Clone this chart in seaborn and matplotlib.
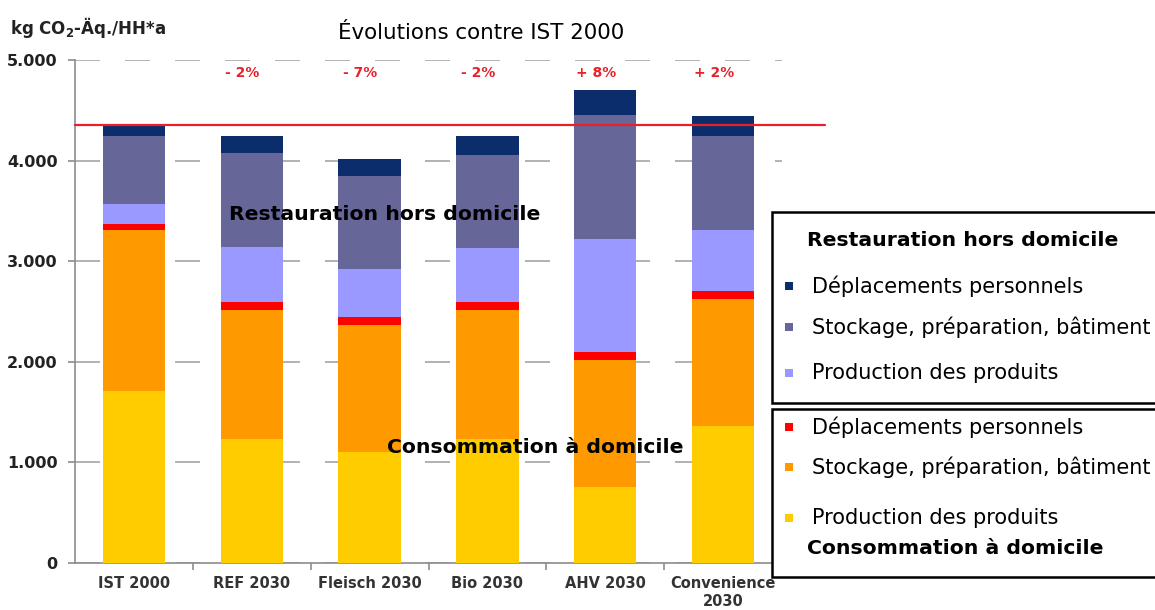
import numpy as np
import pandas as pd
import matplotlib
matplotlib.use('Agg')
import matplotlib.pyplot as plt
from matplotlib.patches import Rectangle
import seaborn as sns

# scenarios on the x axis
scenarios = ['IST 2000', 'REF 2030', 'Fleisch 2030', 'Bio 2030', 'AHV 2030', 'Convenience\n2030']

# kg CO2-eq per household and year, bottom to top
home_production = [1710, 1230, 1105, 1230, 760, 1360]
home_storage = [1600, 1280, 1260, 1280, 1260, 1265]
home_transport = [60, 80, 85, 80, 75, 80]
out_production = [200, 555, 470, 545, 1125, 605]
out_storage = [675, 935, 930, 925, 1235, 935]
out_transport = [105, 165, 170, 185, 245, 195]

changes = ['', '- 2%', '- 7%', '- 2%', '+ 8%', '+ 2%']

segment_names = ['Production des produits', 'Stockage, préparation, bâtiment', 'Déplacements personnels',
                 'Production des produits', 'Stockage, préparation, bâtiment', 'Déplacements personnels']
segment_colors = ['#FFCC00', '#FF9900', '#FF0000', '#9999FF', '#666699', '#0B2D6B']
segments = [home_production, home_storage, home_transport, out_production, out_storage, out_transport]

sns.set_theme(style='white')
plt.rcParams['font.family'] = ['DejaVu Sans']
plt.rcParams['text.color'] = 'black'

df = pd.DataFrame({'scenario': scenarios})
cum = np.zeros(len(scenarios))
for k, seg in enumerate(segments):
    cum = cum + np.array(seg)
    df['cum{}'.format(k)] = cum

fig = plt.figure(figsize=(11.55, 6.10), dpi=100)
ax = fig.add_axes([75 / 1155, 1 - 563 / 610, 707 / 1155, 503 / 610])

# stacked bars: draw cumulative totals from the top down
for k in reversed(range(len(segments))):
    sns.barplot(data=df, x='scenario', y='cum{}'.format(k), color=segment_colors[k],
                saturation=1, width=0.53, order=scenarios, ax=ax, zorder=3,
                linewidth=0, edgecolor='none')

ax.set_ylim(0, 5000)
ax.set_xlim(-0.5, 5.5)
ax.set_yticks([0, 1000, 2000, 3000, 4000, 5000])
ax.set_yticklabels(['0', '1.000', '2.000', '3.000', '4.000', '5.000'])
ax.set_xlabel('')
ax.set_ylabel('')

lw = 1.3
ax.yaxis.grid(True, color='#ABABAB', linewidth=lw, linestyle=(0, (18 / lw, 18 / lw)), zorder=0)
ax.xaxis.grid(False)
ax.set_axisbelow(True)

for side in ['top', 'right']:
    ax.spines[side].set_visible(False)
for side in ['left', 'bottom']:
    ax.spines[side].set_color('#8C8C8C')
    ax.spines[side].set_linewidth(1.2)

ax.tick_params(axis='y', which='major', left=True, length=5, width=1.2, color='#8C8C8C',
               labelsize=11.5, labelcolor='#222222', pad=7.5)
for lab in ax.get_yticklabels():
    lab.set_fontweight('bold')

ax.set_xticks(np.arange(len(scenarios)))
ax.set_xticklabels(scenarios)
ax.set_xticks(np.arange(len(scenarios)) + 0.5, minor=True)
ax.tick_params(axis='x', which='major', bottom=False, labelsize=10.5, labelcolor='#333333', pad=3)
ax.tick_params(axis='x', which='minor', bottom=True, length=5, width=1.2, color='#8C8C8C')
for lab in ax.get_xticklabels():
    lab.set_fontweight('bold')
    lab.set_linespacing(1.3)

# reference line at the IST 2000 total
ax.axhline(df['cum5'].iloc[0], xmin=0, xmax=(825 - 75) / 707, color='#E8202A',
           linewidth=1.6, zorder=4, clip_on=False)

for i, txt in enumerate(changes):
    ax.text(i - 0.08, 4870, txt, color='#E8202A', fontsize=10, fontweight='bold',
            ha='center', va='center')

ax.text(2.13, 3460, 'Restauration hors domicile', fontsize=14.7, fontweight='bold',
        ha='center', va='center', color='black', zorder=5)
ax.text(3.41, 1145, 'Consommation à domicile', fontsize=14.7, fontweight='bold',
        ha='center', va='center', color='black', zorder=5)

fig.text(481 / 1155, 1 - 33 / 610, 'Évolutions contre IST 2000', fontsize=15.4,
         ha='center', va='center', color='black')
fig.text(10 / 1155, 1 - 27 / 610, r'kg CO$_\mathbf{2}$-Äq./HH*a', fontsize=12, fontweight='bold',
         ha='left', va='center', color='#222222')

# legend boxes
def px(x, y):
    return x / 1155, 1 - y / 610

for (y0, y1) in [(212, 403), (409, 577)]:
    fig.patches.append(Rectangle(px(772, y1), (1160 - 772) / 1155, (y1 - y0) / 610,
                                 transform=fig.transFigure, facecolor='white',
                                 edgecolor='black', linewidth=1.8, zorder=10))

fig.text(*px(807, 241), 'Restauration hors domicile', fontsize=14.7, fontweight='bold',
         ha='left', va='center', color='black', zorder=11)
fig.text(*px(807, 548), 'Consommation à domicile', fontsize=14.7, fontweight='bold',
         ha='left', va='center', color='black', zorder=11)

legend_rows = [(5, 286), (4, 327), (3, 373), (2, 427), (1, 467), (0, 518)]
for k, y in legend_rows:
    fig.patches.append(Rectangle(px(785, y + 4), 8 / 1155, 8 / 610, transform=fig.transFigure,
                                 facecolor=segment_colors[k], edgecolor='none', zorder=11))
    fig.text(*px(812, y), segment_names[k], fontsize=15, ha='left', va='center',
             color='black', zorder=11)

fig.savefig('out.png', dpi=100)
